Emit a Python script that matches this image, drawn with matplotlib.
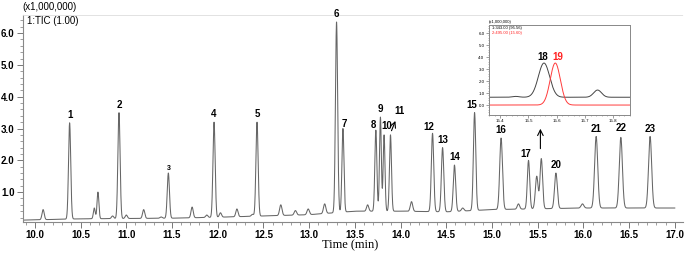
import numpy as np
import matplotlib
matplotlib.use('Agg')
from matplotlib import pyplot as plt
from matplotlib.ticker import MultipleLocator

plt.rcParams['font.family'] = ['Liberation Sans', 'DejaVu Sans']

# TIC trace: apex time (min), apex height (x1,000,000), peak width (min)
peak_t = [10.09, 10.38, 10.65, 10.69, 10.85, 10.92, 11.00, 11.19, 11.38, 11.46,
          11.72, 11.88, 11.96, 12.03, 12.21, 12.38, 12.43, 12.69, 12.85, 12.99,
          13.17, 13.30, 13.37, 13.64, 13.73, 13.78, 13.82, 13.89, 14.12, 14.35,
          14.46, 14.59, 14.68, 14.81, 15.10, 15.29, 15.40, 15.49, 15.54, 15.70,
          15.99, 16.14, 16.41, 16.73]
peak_h = [0.45, 3.18, 0.50, 1.00, 0.25, 3.50, 0.28, 0.45, 0.22, 1.60,
          0.53, 0.28, 3.20, 0.35, 0.47, 0.30, 3.20, 0.60, 0.42, 0.47,
          0.63, 6.35, 3.00, 0.60, 2.95, 3.36, 2.80, 2.80, 0.70, 2.85,
          2.40, 1.85, 0.50, 3.50, 2.70, 0.63, 2.00, 1.50, 2.05, 1.60,
          0.63, 2.75, 2.72, 2.75]
peak_w = [0.012, 0.012, 0.010, 0.010, 0.012, 0.012, 0.012, 0.012, 0.012, 0.012,
          0.012, 0.012, 0.012, 0.012, 0.012, 0.012, 0.012, 0.013, 0.013, 0.013,
          0.013, 0.012, 0.011, 0.012, 0.011, 0.010, 0.010, 0.011, 0.013, 0.013,
          0.013, 0.013, 0.013, 0.013, 0.015, 0.013, 0.013, 0.015, 0.014, 0.015,
          0.015, 0.017, 0.017, 0.017]

# baseline drift
base_t = [9.88, 10.5, 11.0, 11.5, 12.0, 12.5, 13.0, 13.5, 14.0, 14.5, 15.0, 16.0, 17.0]
base_h = [0.12, 0.16, 0.17, 0.18, 0.21, 0.25, 0.29, 0.40, 0.40, 0.38, 0.45, 0.50, 0.50]

# numbered compounds in the main trace
lab_names = ['1', '2', '3', '4', '5', '6', '7', '8', '9', '10', '12', '13', '14',
             '15', '16', '17', '20', '21', '22', '23']
lab_t = [10.38, 10.92, 11.46, 11.96, 12.43, 13.30, 13.37, 13.73, 13.78, 13.82, 14.35,
         14.46, 14.59, 14.81, 15.10, 15.40, 15.70, 16.14, 16.41, 16.73]

# inset: extracted ions around 15.5 min
ion_names = ['1:343.00 (95.56)', '2:495.00 (15.60)']
ion1_t = [15.455, 15.555, 15.745]
ion1_h = [0.72, 3.50, 1.25]
ion1_w = [0.012, 0.020, 0.014]
ion1_base = 0.65
ion2_t = [15.595]
ion2_h = [3.50]
ion2_w = [0.018]
ion2_base = 0.0


def trace(t, pts, hs, ws, bt, bh):
    y = np.interp(t, bt, bh)
    for p, h, w in zip(pts, hs, ws):
        amp = h - np.interp(p, bt, bh)
        y = y + amp * np.exp(-0.5 * ((t - p) / w) ** 2)
    return y


fig = plt.figure(figsize=(6.85, 2.59), dpi=100)
ax = fig.add_axes([23 / 685, 1 - 222 / 259, 660 / 685, 207 / 259])

t = np.linspace(9.88, 17.0, 8000)
y = trace(t, peak_t, peak_h, peak_w, base_t, base_h)
ax.plot(t, y, color='#666666', lw=0.75)

ax.set_xlim(9.87, 17.09)
ax.set_ylim(0.06, 6.57)
ax.xaxis.set_major_locator(MultipleLocator(0.5))
ax.xaxis.set_minor_locator(MultipleLocator(0.1))
ax.set_yticks([1, 2, 3, 4, 5, 6])
ax.yaxis.set_minor_locator(MultipleLocator(0.2))
ax.tick_params(which='major', length=4, width=0.7, color='#777777', labelsize=7, pad=2)
ax.tick_params(which='minor', length=2, width=0.5, color='#777777')
for lbl in ax.get_xticklabels() + ax.get_yticklabels():
    lbl.set_fontweight('bold')
ax.xaxis.set_major_formatter(matplotlib.ticker.FormatStrFormatter('%.1f'))
ax.yaxis.set_major_formatter(matplotlib.ticker.FormatStrFormatter('%.1f'))
for s in ['left', 'bottom']:
    ax.spines[s].set_color('#888888')
    ax.spines[s].set_linewidth(0.8)
ax.spines['right'].set_visible(False)
ax.spines['top'].set_color('#dddddd')
ax.spines['top'].set_linestyle((0, (1, 1)))
ax.spines['top'].set_linewidth(0.6)

# peak numbers
nudge = {'3': (0, 1), '7': (1, 0), '8': (-2, 0), '10': (2, 3), '12': (-3, 1), '15': (-2, 2),
         '17': (-2, 1), '22': (0, 3)}
for name, pt in zip(lab_names, lab_t):
    ph = np.interp(pt, t, y)
    dx, dy = nudge.get(name, (0, 2))
    ax.annotate(name, xy=(pt, ph), xytext=(dx, dy), textcoords='offset points',
                ha='center', va='bottom', fontsize=5 if name == '3' else 7,
                fontweight='bold')

# peak 11 with arrow
ax.annotate('', xy=(13.955, 3.32), xytext=(13.89, 2.85),
            arrowprops=dict(arrowstyle='->', lw=0.8, color='black'))
ax.text(13.99, 3.55, '11', ha='center', va='center', fontsize=7, fontweight='bold')

# arrow pointing to the inset
ax.annotate('', xy=(15.53, 3.08), xytext=(15.53, 2.28),
            arrowprops=dict(arrowstyle='->', lw=0.8, color='black'))

fig.text(22 / 685, 1 - 7 / 259, '(x1,000,000)', fontsize=7, va='center', ha='left')
fig.text(27 / 685, 1 - 21 / 259, '1:TIC (1.00)', fontsize=7, va='center', ha='left')
fig.text(350 / 685, 1 - 245 / 259, 'Time (min)', fontsize=9, va='center', ha='center',
         family='Liberation Serif')

# inset
axi = fig.add_axes([489 / 685, 1 - 115 / 259, 141 / 685, 90 / 259])
ti = np.linspace(15.36, 15.86, 1000)
y1 = trace(ti, ion1_t, ion1_h, ion1_w, [15.36, 15.86], [ion1_base, ion1_base])
y2 = trace(ti, ion2_t, ion2_h, ion2_w, [15.36, 15.86], [ion2_base, ion2_base])
axi.plot(ti, y1, color='#444444', lw=0.7)
axi.plot(ti, y2, color='#ff3b3b', lw=0.7)
axi.set_xlim(15.36, 15.86)
axi.set_ylim(-0.83, 6.67)
axi.set_xticks([15.4, 15.5, 15.6, 15.7, 15.8])
axi.xaxis.set_minor_locator(MultipleLocator(0.02))
axi.set_yticks([0, 1, 2, 3, 4, 5, 6])
axi.yaxis.set_minor_locator(MultipleLocator(0.2))
axi.yaxis.set_major_formatter(matplotlib.ticker.FormatStrFormatter('%.1f'))
axi.tick_params(which='major', length=2, width=0.5, color='#777777', labelsize=3.2, pad=1.2)
axi.tick_params(which='minor', length=1, width=0.4, color='#777777')
for s in axi.spines.values():
    s.set_color('#888888')
    s.set_linewidth(0.7)
axi.text(15.552, 4.0, '18', ha='center', va='center', fontsize=7, fontweight='bold')
axi.text(15.605, 4.0, '19', ha='center', va='center', fontsize=7, fontweight='bold',
         color='#ff2020')
axi.text(0.0, 1.01, '(x1,000,000)', transform=axi.transAxes, fontsize=3, va='bottom')
axi.text(0.02, 0.985, ion_names[0], transform=axi.transAxes, fontsize=3, va='top')
axi.text(0.02, 0.93, ion_names[1], transform=axi.transAxes, fontsize=3, va='top',
         color='#ff2020')

fig.savefig('out.png', dpi=100)
